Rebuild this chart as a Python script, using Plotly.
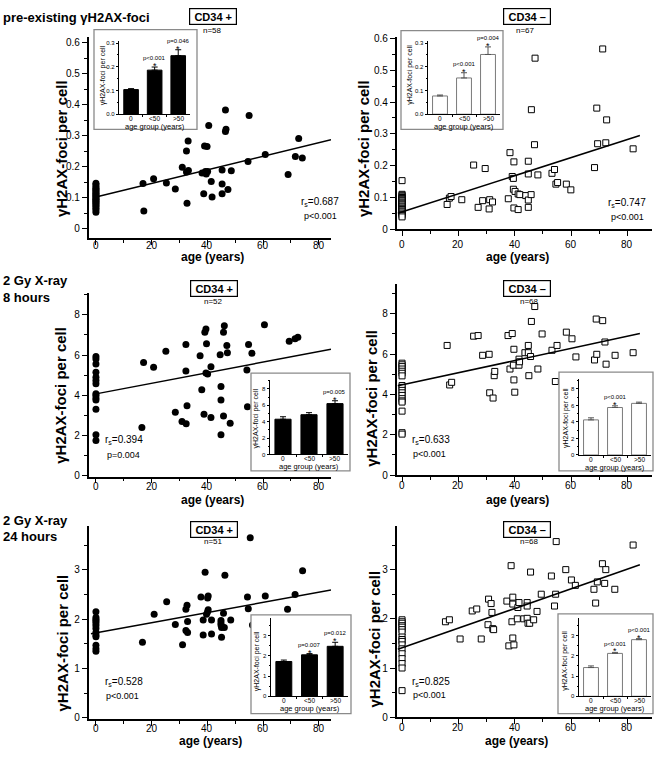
import plotly.graph_objects as go

W, H = 661, 760
FONT = "Liberation Sans, Arial, sans-serif"

# ====================== DATA ======================
# --- pre-existing gammaH2AX foci, CD34+ (n=58)
pre_pos_age0 = [0.147, 0.142, 0.136, 0.131, 0.127, 0.123, 0.119, 0.115, 0.111, 0.107, 0.104,
                0.100, 0.096, 0.093, 0.089, 0.085, 0.081, 0.077, 0.072, 0.067, 0.061, 0.054]
pre_pos_age = [16.9, 17.2, 20.7, 25.3, 28.5, 31.0, 32.5, 33.1, 32.5, 33.2, 32.7, 38.1, 38.7, 39.0,
               39.9, 39.3, 39.6, 40.1, 40.5, 41.4, 41.7, 45.3, 45.3, 45.3, 46.5, 46.7, 46.5, 47.4,
               48.6, 54.6, 55.0, 60.8, 69.0, 71.6, 72.8, 74.1]
pre_pos_foci = [0.146, 0.058, 0.162, 0.148, 0.129, 0.199, 0.251, 0.283, 0.183, 0.188, 0.083, 0.180,
                0.113, 0.267, 0.265, 0.185, 0.177, 0.185, 0.333, 0.153, 0.103, 0.190, 0.145, 0.113,
                0.314, 0.321, 0.383, 0.127, 0.187, 0.217, 0.365, 0.240, 0.175, 0.233, 0.291, 0.228]

# --- pre-existing gammaH2AX foci, CD34- (n=67)
pre_neg_age0 = [0.153, 0.110, 0.107, 0.104, 0.100, 0.097, 0.093, 0.090, 0.086, 0.083, 0.080,
                0.077, 0.073, 0.070, 0.066, 0.062, 0.058, 0.055, 0.051, 0.047, 0.043, 0.039]
pre_neg_age = [16.0, 16.8, 17.4, 21.2, 25.4, 27.0, 28.6, 29.5, 30.9, 31.1, 32.1, 37.7, 38.3, 39.1,
               39.5, 39.7, 39.5, 40.1, 39.7, 41.2, 41.2, 41.8, 43.9, 44.8, 44.8, 44.8, 44.8, 45.8,
               45.9, 47.0, 47.2, 48.2, 53.2, 54.1, 54.6, 55.2, 58.3, 59.9, 68.3, 69.1, 69.4, 71.2,
               72.3, 72.6, 82.0]
pre_neg_foci = [0.078, 0.098, 0.103, 0.093, 0.202, 0.069, 0.090, 0.191, 0.064, 0.093, 0.086, 0.096,
                0.241, 0.166, 0.160, 0.212, 0.126, 0.119, 0.067, 0.062, 0.111, 0.109, 0.106, 0.214,
                0.174, 0.092, 0.069, 0.109, 0.376, 0.266, 0.538, 0.171, 0.176, 0.188, 0.142, 0.147,
                0.142, 0.124, 0.194, 0.381, 0.269, 0.567, 0.272, 0.344, 0.253]

# --- 2 Gy X-ray, 8 hours, CD34+ (n=52)
h8_pos_age0 = [5.93, 5.80, 5.55, 5.14, 4.90, 4.73, 4.57, 4.08, 4.00, 3.87, 3.76, 3.30, 2.04, 1.75]
h8_pos_age = [16.5, 17.1, 20.7, 25.1, 28.5, 30.9, 32.3, 32.3, 32.7, 32.4, 37.4, 38.0, 38.8, 39.1,
              39.5, 39.7, 39.5, 40.1, 41.3, 41.3, 44.6, 44.9, 44.9, 44.9, 46.1, 45.8, 45.8, 47.0,
              47.2, 48.2, 54.2, 54.8, 54.4, 56.0, 60.5, 69.4, 71.5, 72.5]
h8_pos_foci = [2.40, 5.63, 5.39, 6.19, 3.15, 2.69, 6.53, 5.21, 3.48, 2.58, 5.96, 4.28, 3.05, 7.13,
               7.30, 6.56, 5.11, 5.06, 5.42, 2.89, 6.02, 4.44, 3.76, 2.04, 7.46, 7.13, 2.97, 6.48,
               6.12, 2.61, 5.26, 6.53, 3.43, 6.09, 7.51, 6.69, 6.81, 6.89]

# --- 2 Gy X-ray, 8 hours, CD34- (n=68)
h8_neg_age0 = [5.55, 5.47, 5.38, 5.26, 5.15, 5.05, 4.92, 4.44, 4.35, 4.20, 4.08, 3.95, 3.79,
               3.68, 3.62, 3.17, 2.10, 2.03]
h8_neg_age = [16.0, 16.9, 17.6, 25.4, 27.0, 28.6, 30.9, 31.1, 32.3, 32.7, 32.9, 37.6, 39.1, 38.3,
              39.5, 39.7, 39.7, 40.0, 41.5, 41.5, 41.7, 43.6, 44.8, 44.8, 45.0, 45.6, 45.9, 47.1,
              48.2, 49.7, 53.2, 54.4, 55.0, 58.3, 60.3, 61.7, 68.3, 69.1, 68.9, 71.2, 72.0, 72.4,
              75.6, 82.0]
h8_neg_foci = [6.43, 4.47, 4.60, 6.89, 6.92, 5.94, 5.99, 4.08, 3.82, 4.93, 5.14, 6.92, 7.02, 5.26,
               5.45, 6.24, 4.72, 4.11, 5.75, 5.45, 5.62, 6.07, 6.07, 6.43, 4.93, 5.88, 7.62, 8.36,
               5.26, 7.00, 6.19, 4.64, 6.43, 7.09, 6.76, 5.86, 5.71, 5.99, 7.74, 7.66, 6.60, 5.50,
               5.94, 6.07]

# --- 2 Gy X-ray, 24 hours, CD34+ (n=51)
h24_pos_age0 = [2.15, 2.03, 1.99, 1.96, 1.92, 1.87, 1.81, 1.73, 1.68, 1.64, 1.47, 1.40, 1.35]
h24_pos_age = [16.7, 20.9, 25.4, 28.5, 31.1, 32.3, 32.7, 32.9, 32.3, 32.9, 37.7, 38.5, 38.5, 39.2,
               39.7, 40.1, 40.3, 40.1, 40.3, 41.5, 41.5, 44.9, 44.9, 44.9, 45.1, 45.1, 45.8, 46.1,
               46.3, 48.4, 54.4, 54.7, 55.4, 56.2, 60.8, 68.8, 71.5, 74.2]
h24_pos_foci = [1.53, 2.10, 2.35, 1.89, 1.48, 2.20, 2.28, 1.95, 1.77, 1.73, 2.45, 1.98, 1.68, 2.95,
                2.10, 2.43, 2.47, 2.15, 2.19, 1.98, 1.70, 1.97, 1.92, 1.88, 1.83, 1.63, 2.12, 1.83,
                2.89, 1.98, 2.45, 2.21, 3.65, 1.88, 2.47, 2.20, 2.50, 2.98]

# --- 2 Gy X-ray, 24 hours, CD34- (n=68)
h24_neg_age0 = [1.98, 1.94, 1.91, 1.86, 1.83, 1.78, 1.73, 1.63, 1.58, 1.54, 1.47, 1.39, 1.29,
                1.19, 1.09, 1.00, 0.54]
h24_neg_age = [15.4, 16.8, 20.6, 24.9, 26.5, 28.1, 30.7, 30.5, 31.6, 31.9, 32.2, 32.5, 37.2, 37.9,
               38.7, 39.0, 39.3, 39.3, 39.3, 39.7, 40.9, 41.1, 41.5, 43.2, 44.4, 44.4, 44.4, 44.7,
               45.3, 45.6, 46.7, 47.9, 49.4, 53.0, 54.1, 54.5, 54.7, 58.1, 60.1, 61.5, 68.1, 68.7,
               69.3, 71.1, 72.3, 71.9, 75.5, 82.0]
h24_neg_foci = [1.94, 1.98, 1.59, 2.16, 2.20, 1.59, 2.40, 1.88, 2.31, 2.13, 1.80, 1.78, 2.36, 1.45,
                3.08, 1.94, 2.44, 2.30, 1.61, 1.47, 2.00, 2.23, 2.33, 2.00, 2.33, 2.26, 2.01, 1.91,
                1.91, 2.95, 1.98, 2.15, 2.50, 2.87, 2.26, 2.50, 3.57, 3.00, 2.79, 2.68, 2.60, 2.32,
                2.75, 3.12, 3.00, 2.72, 2.60, 3.50]

# --- regression lines: intercept, slope, x-extent
fit_intercept = [0.103, 0.055, 4.07, 4.47, 1.72, 1.41]
fit_slope = [0.00218, 0.00284, 0.0263, 0.0302, 0.0103, 0.0200]
fit_start = [0.0, -1.5, 0.0, -1.5, -1.8, -1.5]
fit_end = [84.4, 84.4, 84.4, 84.4, 84.4, 84.4]

# --- statistics text
n_donors = [58, 67, 52, 68, 51, 68]
spearman_r = ["0.687", "0.747", "0.394", "0.633", "0.528", "0.825"]
spearman_p = ["p<0.001", "p<0.001", "p=0.004", "p<0.001", "p<0.001", "p<0.001"]
cell_type = ["CD34 +", "CD34 \u2013", "CD34 +", "CD34 \u2013", "CD34 +", "CD34 \u2013"]
age_ticks = [0, 20, 40, 60, 80]

# --- inset bar charts (age groups)
age_groups = ["0", "<50", ">50"]
pre_pos_mean = [0.104, 0.186, 0.247]
pre_pos_err = [0.004, 0.013, 0.025]
pre_pos_sig = ["", "p<0.001", "p=0.046"]
pre_neg_mean = [0.077, 0.153, 0.252]
pre_neg_err = [0.004, 0.022, 0.032]
pre_neg_sig = ["", "p<0.001", "p=0.004"]
h8_pos_mean = [4.30, 4.85, 6.20]
h8_pos_err = [0.30, 0.25, 0.35]
h8_pos_sig = ["", "", "p=0.005"]
h8_neg_mean = [4.25, 5.75, 6.25]
h8_neg_err = [0.25, 0.20, 0.15]
h8_neg_sig = ["", "p<0.001", ""]
h24_pos_mean = [1.72, 2.05, 2.47]
h24_pos_err = [0.07, 0.06, 0.20]
h24_pos_sig = ["", "p=0.007", "p=0.012"]
h24_neg_mean = [1.42, 2.12, 2.80]
h24_neg_err = [0.08, 0.05, 0.05]
h24_neg_sig = ["", "p<0.001", "p<0.001"]

# ====================== LAYOUT GEOMETRY (pixels) ======================
panels = [
    dict(x=(88.7, 331), y=(33, 237), xr=(-2.6, 84.4), yr=(-0.0286, 0.619), dt=0.1, mdt=0.05, filled=True,
         box=(213, 12.5), n=(212, 27), rs=(320, 201), ps=(320, 214.5), yt=(61, 147), xt=(212, 256), tl=245),
    dict(x=(396.7, 652), y=(33.3, 228.3), xr=(-1.9, 88.7), yr=(0, 0.605), dt=0.1, mdt=0.05, filled=False,
         box=(527, 12.5), n=(525, 27), rs=(627, 202), ps=(627.5, 215.5), yt=(363, 147), xt=(517, 256), tl=244),
    dict(x=(88.7, 331), y=(293, 479), xr=(-2.6, 84.4), yr=(-0.05, 9.08), dt=2, mdt=1, filled=True,
         box=(214, 288.5), n=(213, 301), rs=(123.5, 442), ps=(123.5, 457), yt=(61, 397), xt=(212, 503), tl=489),
    dict(x=(396.7, 652), y=(283.3, 477.3), xr=(-1.9, 88.7), yr=(0, 9.5), dt=2, mdt=1, filled=False,
         box=(527, 288.5), n=(529, 301), rs=(431, 442), ps=(429.5, 456.5), yt=(372, 399), xt=(517, 503), tl=488),
    dict(x=(88.7, 331), y=(529.3, 724.3), xr=(-2.6, 84.4), yr=(-0.02, 3.88), dt=1, mdt=0.5, filled=True,
         box=(214, 532.5), n=(213, 545), rs=(123.5, 687), ps=(123, 701), yt=(62, 648), xt=(210, 747), tl=734),
    dict(x=(396.7, 652), y=(529.3, 722.7), xr=(-1.9, 88.7), yr=(0, 3.88), dt=1, mdt=0.5, filled=False,
         box=(527, 532.5), n=(529, 545), rs=(431, 687), ps=(429.5, 700.5), yt=(375, 644), xt=(516, 747), tl=733),
]

insets = [
    dict(box=(94, 197, 26, 127), x=(119.3, 190), y=(37.7, 111.7), yr=(0, 0.308), dt=0.1, mdt=0.05,
         fmt=".1f", yt=(103.3, 72)),
    dict(box=(401, 503, 27, 127), x=(428, 500), y=(37.7, 111.7), yr=(0, 0.308), dt=0.1, mdt=0.05,
         fmt=".1f", yt=(409.7, 72)),
    dict(box=(251, 350, 374, 473), x=(270, 348), y=(381, 456.5), yr=(0, 9.08), dt=2, mdt=1,
         fmt="d", yt=(256, 420)),
    dict(box=(559, 653, 373, 473), x=(579, 651), y=(380, 457), yr=(0, 9.2), dt=2, mdt=1,
         fmt="d", yt=(566.5, 420)),
    dict(box=(251, 351, 619, 719), x=(271, 348), y=(622, 701.5), yr=(0, 3.88), dt=1, mdt=0.5,
         fmt="d", yt=(257, 666)),
    dict(box=(558, 653, 618, 719), x=(579, 651), y=(622, 701.5), yr=(0, 3.88), dt=1, mdt=0.5,
         fmt="d", yt=(565.5, 666)),
]

row_titles = [("pre-existing \u03b3H2AX-foci", 14), ("2 Gy X-ray", 280), ("8 hours", 297),
              ("2 Gy X-ray", 523.5), ("24 hours", 540)]

# ====================== BUILD ======================
scatter_sets = [
    (pre_pos_age0, pre_pos_age, pre_pos_foci),
    (pre_neg_age0, pre_neg_age, pre_neg_foci),
    (h8_pos_age0, h8_pos_age, h8_pos_foci),
    (h8_neg_age0, h8_neg_age, h8_neg_foci),
    (h24_pos_age0, h24_pos_age, h24_pos_foci),
    (h24_neg_age0, h24_neg_age, h24_neg_foci),
]
bar_sets = [
    (pre_pos_mean, pre_pos_err, pre_pos_sig),
    (pre_neg_mean, pre_neg_err, pre_neg_sig),
    (h8_pos_mean, h8_pos_err, h8_pos_sig),
    (h8_neg_mean, h8_neg_err, h8_neg_sig),
    (h24_pos_mean, h24_pos_err, h24_pos_sig),
    (h24_neg_mean, h24_neg_err, h24_neg_sig),
]


def px(p):
    return p / W


def py(p):
    return 1 - p / H


def xdom(a, b):
    return [px(a), px(b)]


def ydom(top, bottom):
    return [py(bottom), py(top)]


def tref(letter, i):
    return letter if i == 1 else f"{letter}{i}"


def lkey(letter, i):
    return f"{letter}axis" if i == 1 else f"{letter}axis{i}"


def text(x, y, s, size, bold=False, angle=0, xanchor="center", **kw):
    return dict(x=px(x), y=py(y), xref="paper", yref="paper", text=f"<b>{s}</b>" if bold else s,
                textangle=angle, showarrow=False, xanchor=xanchor, yanchor="middle",
                font=dict(size=size, family=FONT, color="black"), **kw)


fig = go.Figure()
layout = dict(width=W, height=H, margin=dict(l=0, r=0, t=0, b=0), paper_bgcolor="white",
              plot_bgcolor="rgba(0,0,0,0)", showlegend=False,
              font=dict(family=FONT, color="black"))
ann = []
shapes = []

# ---- main scatter panels (axes 1..6)
for k, P in enumerate(panels):
    i = k + 1
    age0, ages, foci = scatter_sets[k]
    xs = [0] * len(age0) + ages
    ys = list(age0) + foci
    if P["filled"]:
        marker = dict(symbol="circle", size=7, color="black", line=dict(width=0))
    else:
        marker = dict(symbol="square", size=6, color="white", line=dict(color="black", width=1))
    fig.add_trace(go.Scatter(x=xs, y=ys, mode="markers", marker=marker, cliponaxis=False,
                             xaxis=tref("x", i), yaxis=tref("y", i), hoverinfo="skip"))
    x0, x1 = fit_start[k], fit_end[k]
    fig.add_trace(go.Scatter(x=[x0, x1],
                             y=[fit_intercept[k] + fit_slope[k] * x0, fit_intercept[k] + fit_slope[k] * x1],
                             mode="lines", line=dict(color="black", width=1.5),
                             xaxis=tref("x", i), yaxis=tref("y", i), hoverinfo="skip"))
    axis_common = dict(showline=True, linecolor="black", linewidth=1.6, ticks="outside", ticklen=5,
                       tickwidth=1.3, tickcolor="black", showgrid=False, zeroline=False,
                       tickfont=dict(size=10, family=FONT, color="black"), fixedrange=True)
    layout[lkey("x", i)] = dict(domain=xdom(*P["x"]), range=list(P["xr"]), anchor=tref("y", i),
                                tickvals=age_ticks, showticklabels=False,
                                minor=dict(dtick=10, tick0=0, ticks="outside", ticklen=3, tickwidth=1,
                                           tickcolor="black", showgrid=False),
                                **axis_common)
    layout[lkey("y", i)] = dict(domain=ydom(*P["y"]), range=list(P["yr"]), anchor=tref("x", i),
                                tick0=0, dtick=P["dt"],
                                minor=dict(dtick=P["mdt"], tick0=0, ticks="outside", ticklen=3, tickwidth=1,
                                           tickcolor="black", showgrid=False),
                                **axis_common)
    # x tick labels (placed through the axis scale)
    ax0, ax1 = P["x"]
    r0, r1 = P["xr"]
    for v in age_ticks:
        ann.append(text(ax0 + (v - r0) / (r1 - r0) * (ax1 - ax0), P["tl"], str(v), 10))
    # axis titles
    ann.append(text(P["yt"][0], P["yt"][1], "\u03b3H2AX-foci per cell", 15, bold=True, angle=-90))
    ann.append(text(P["xt"][0], P["xt"][1], "age (years)", 12, bold=True))
    # cell-type box + n
    ann.append(text(P["box"][0], P["box"][1], cell_type[k], 11, bold=True, bordercolor="black",
                    borderwidth=1.2, borderpad=1, width=44, height=13, bgcolor="white"))
    ann.append(text(P["n"][0], P["n"][1], f"n={n_donors[k]}", 8))
    # spearman statistics
    ann.append(text(P["rs"][0], P["rs"][1], f"r<sub>s</sub>={spearman_r[k]}", 10))
    ann.append(text(P["ps"][0], P["ps"][1], spearman_p[k], 9))

# ---- white cover boxes for insets (axes 7..12)
for k, I in enumerate(insets):
    i = k + 7
    bx0, bx1, by0, by1 = I["box"]
    fig.add_trace(go.Scatter(x=[0, 1, 1, 0, 0], y=[0, 0, 1, 1, 0], mode="lines", fill="toself",
                             fillcolor="white", line=dict(width=0, color="white"),
                             xaxis=tref("x", i), yaxis=tref("y", i), hoverinfo="skip"))
    layout[lkey("x", i)] = dict(domain=xdom(bx0, bx1), range=[0, 1], visible=False, anchor=tref("y", i),
                                fixedrange=True)
    layout[lkey("y", i)] = dict(domain=ydom(by0, by1), range=[0, 1], visible=False, anchor=tref("x", i),
                                fixedrange=True)
    shapes.append(dict(type="rect", xref="paper", yref="paper", x0=px(bx0), x1=px(bx1),
                       y0=py(by1), y1=py(by0), line=dict(color="#8a8a8a", width=1.3),
                       fillcolor="rgba(0,0,0,0)", layer="above"))

# ---- inset bar charts (axes 13..18)
for k, I in enumerate(insets):
    i = k + 13
    means, errs, sigs = bar_sets[k]
    filled = panels[k]["filled"]
    bar_color = "black" if filled else "white"
    edge = "black" if filled else "#7a7a7a"
    err_color = "black" if filled else "#555555"
    cats = list(range(len(age_groups)))
    fig.add_trace(go.Bar(x=cats, y=means, width=0.62,
                         marker=dict(color=bar_color, line=dict(color=edge, width=1)),
                         error_y=dict(type="data", array=errs, arrayminus=[0] * len(errs), symmetric=False,
                                      color=err_color, thickness=1, width=3),
                         xaxis=tref("x", i), yaxis=tref("y", i), hoverinfo="skip"))
    layout[lkey("x", i)] = dict(domain=xdom(*I["x"]), range=[-0.5, 2.5], anchor=tref("y", i),
                                showline=True, linecolor="black", linewidth=1, ticks="outside",
                                ticklen=2, tickcolor="black", tickvals=[0.5, 1.5], showticklabels=False,
                                showgrid=False, zeroline=False, fixedrange=True)
    layout[lkey("y", i)] = dict(domain=ydom(*I["y"]), range=list(I["yr"]), anchor=tref("x", i),
                                showline=True, linecolor="black", linewidth=1, ticks="outside",
                                ticklen=2.5, tickwidth=1, tickcolor="black", tick0=0, dtick=I["dt"],
                                tickformat=I["fmt"],
                                minor=dict(dtick=I["mdt"], tick0=0, ticks="outside", ticklen=1.5,
                                           tickcolor="black", showgrid=False),
                                tickfont=dict(size=6, family=FONT, color="black"),
                                showgrid=False, zeroline=False, fixedrange=True)
    ix0, ix1 = I["x"]
    itop, ibot = I["y"]
    ymax = I["yr"][1]

    def cx(c):
        return ix0 + (c + 0.5) / 3 * (ix1 - ix0)

    def vy(v):
        return ibot - v / ymax * (ibot - itop)

    for c, g in zip(cats, age_groups):
        ann.append(text(cx(c), ibot + 4.5, g, 6.5))
    ann.append(text(cx(1), ibot + 12.3, "age group (years)", 7.5))
    ann.append(text(I["yt"][0], I["yt"][1], "\u03b3H2AX-foci per cell", 7, angle=-90))
    for c, m, e, s in zip(cats, means, errs, sigs):
        if s:
            top = vy(m + e)
            ann.append(text(cx(c), top - 1.0, "*", 9))
            ann.append(text(cx(c), top - 9.0, s, 6))

# ---- row titles
for t, yy in row_titles:
    ann.append(text(1, yy, t, 13, bold=True, xanchor="left"))

layout["annotations"] = ann
layout["shapes"] = shapes
fig.update_layout(**layout)
fig.write_html("out.html", config={"displayModeBar": False},
               post_script="document.body.style.margin='0px';document.body.style.overflow='hidden';")
